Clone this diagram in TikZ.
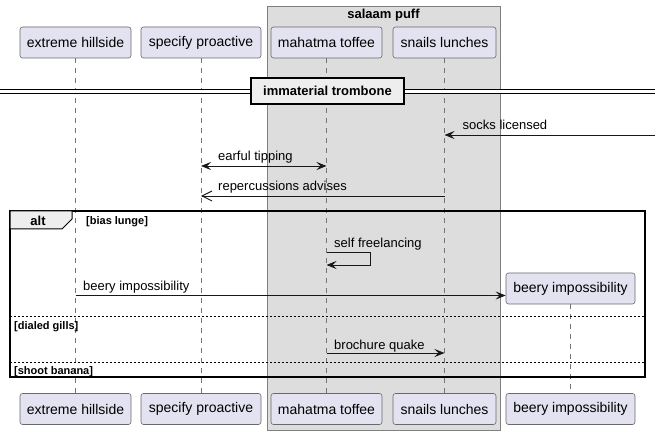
\documentclass[tikz,border=0pt]{standalone}
\usepackage{fontspec}
\setmainfont{Liberation Sans}
\usetikzlibrary{arrows.meta}
\definecolor{partfill}{HTML}{E2E2F0}
\definecolor{groupfill}{HTML}{DDDDDD}
\definecolor{tabfill}{HTML}{EEEEEE}
\definecolor{edge}{HTML}{181818}

\begin{document}
\begin{tikzpicture}[x=1pt, y=-1pt, >={Stealth[length=10pt,width=8pt,inset=4pt]},
	partbox/.style={draw=edge!65, fill=partfill, rounded corners=2.5pt, line width=0.6pt,
		minimum height=31pt, inner sep=0pt, font=\fontsize{14}{16}\selectfont},
	lifeline/.style={draw=edge!60, line width=0.6pt, dash pattern=on 5pt off 5pt},
	msgline/.style={draw=edge, line width=0.9pt, ->},
	msglabel/.style={font=\fontsize{13}{15}\selectfont, inner sep=0pt, anchor=base west},
	guard/.style={font=\bfseries\fontsize{11}{13}\selectfont, inner sep=0pt, anchor=base west},
	heading/.style={font=\bfseries\fontsize{13}{15}\selectfont, inner sep=0pt}]

  	\useasboundingbox (0,0) rectangle (661,435);
  	\filldraw[fill=groupfill, draw=edge!55, line width=0.8pt] (267,6) rectangle (500.5,430);
  	\node[heading, anchor=base] (salaam) at (383.5,19) {salaam puff};

  	\node[partbox, minimum width=111pt] (eh) at (75.5,42.5) {extreme hillside};
  	\node[partbox, minimum width=120pt] (sp) at (201,42.5) {specify proactive};
  	\node[partbox, minimum width=111pt] (mt) at (326.5,42.5) {mahatma toffee};
  	\node[partbox, minimum width=103pt] (sl) at (444.5,42.5) {snails lunches};
  	\node[partbox, minimum width=129pt] (bi) at (570.5,288.5) {beery impossibility};

  	\node[partbox, minimum width=111pt] (eh2) at (75.5,409) {extreme hillside};
  	\node[partbox, minimum width=120pt] (sp2) at (201,409) {specify proactive};
  	\node[partbox, minimum width=111pt] (mt2) at (326.5,409) {mahatma toffee};
  	\node[partbox, minimum width=103pt] (sl2) at (444.5,409) {snails lunches};
  	\node[partbox, minimum width=129pt] (bi2) at (570.5,409) {beery impossibility};

  	\draw[lifeline] (eh) -- (eh2);
  	\draw[lifeline] (sp) -- (sp2);
  	\draw[lifeline] (mt) -- (mt2);
  	\draw[lifeline] (sl) -- (sl2);
  	\draw[lifeline] (bi) -- (bi2);

  	\draw[double, double distance=3pt, line width=1pt] (0,92) -- (655,92);
  	\node[heading, draw, fill=tabfill, line width=1.8pt, minimum width=153pt, minimum height=26pt]
    		(divider) at (327.5,91) {immaterial trombone};

  	\coordinate (rim) at (655,135);
  	\draw[msgline] (rim) -- (sl |- rim);
  	\node[msglabel] (socks) at (462.5,130) {socks licensed};

  	\draw[msgline, <->] (sp |- 0,166) -- (mt |- 0,166);
  	\node[msglabel] (earful) at (218,161) {earful tipping};

  	\draw[draw=edge, line width=0.9pt, -{Straight Barb[length=10pt,width=10pt]}] (sl |- 0,196) -- (sp |- 0,196);
  	\node[msglabel] (repercussions) at (218,191) {repercussions advises};

  	\draw[line width=1.5pt] (10,211) rectangle (645,377);
  	\filldraw[fill=tabfill, line width=1pt] (10,211) -- (72,211) -- (72,219) -- (62,229) -- (10,229) -- cycle;
  	\node[heading, anchor=base] (alt) at (38,225.5) {alt};
  	\node[guard] (bias) at (86,225) {[bias lunge]};

  	\draw[msgline] (mt |- 0,252) -- (370,252) -- (370,265) -- (mt |- 0,265);
  	\node[msglabel] (freelancing) at (334,248) {self freelancing};

  	\draw[msgline] (eh |- 0,295.5) -- (bi.west |- 0,295.5);
  	\node[msglabel] (beery) at (83,291) {beery impossibility};

  	\draw[dash pattern=on 2pt off 2pt, line width=0.8pt] (10,316.5) -- (645,316.5);
  	\node[guard] (dialed) at (14,330) {[dialed gills]};

  	\draw[msgline] (mt |- 0,353) -- (sl |- 0,353);
  	\node[msglabel] (brochure) at (334,349) {brochure quake};

  	\draw[dash pattern=on 2pt off 2pt, line width=0.8pt] (10,362) -- (645,362);
  	\node[guard] (banana) at (14,374) {[shoot banana]};
\end{tikzpicture}
\end{document}
